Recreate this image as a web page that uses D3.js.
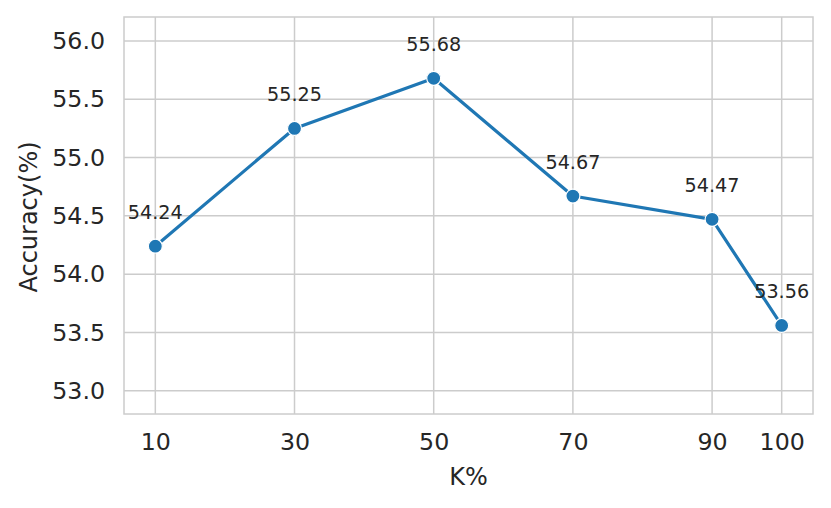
<!DOCTYPE html>
<html>
<head>
<meta charset="utf-8">
<script src="https://cdn.jsdelivr.net/npm/d3@7"></script>
<style>
	body { margin: 0; background: #fff; }
	text { font-family: "DejaVu Sans", sans-serif; fill: #262626; }
	.grid line { stroke: #cccccc; stroke-width: 1.5; }
	.tick text { font-size: 23.7px; }
	.anno { font-size: 19.2px; }
	.axis-label { font-size: 24px; }
</style>
</head>
<body>
<svg id="chart" width="831" height="508"></svg>
<script>
// data
const kValues = [10, 30, 50, 70, 90, 100];
const accuracy = [54.24, 55.25, 55.68, 54.67, 54.47, 53.56];
const yTicks = [53.0, 53.5, 54.0, 54.5, 55.0, 55.5, 56.0];

const width = 831;
const height = 508;
const margin = {top: 17, right: 18, bottom: 94, left: 124};

const svg = d3.select('#chart');

const xScale = d3.scaleLinear()
	.domain([5.5, 104.5])
	.range([margin.left, width - margin.right]);

const yScale = d3.scaleLinear()
	.domain([52.8, 56.206])
	.range([height - margin.bottom, margin.top]);

// grid lines
const grid = svg.append('g').attr('class', 'grid');
grid.selectAll('.vg')
	.data(kValues)
	.enter()
	.append('line')
		.attr('x1', d => xScale(d))
		.attr('x2', d => xScale(d))
		.attr('y1', margin.top)
		.attr('y2', height - margin.bottom);
grid.selectAll('.hg')
	.data(yTicks)
	.enter()
	.append('line')
		.attr('x1', margin.left)
		.attr('x2', width - margin.right)
		.attr('y1', d => yScale(d))
		.attr('y2', d => yScale(d));

// frame
svg.append('rect')
	.attr('x', margin.left)
	.attr('y', margin.top)
	.attr('width', width - margin.left - margin.right)
	.attr('height', height - margin.top - margin.bottom)
	.attr('fill', 'none')
	.attr('stroke', '#cccccc')
	.attr('stroke-width', 1.5);

// axes, only for the labels
const xAxis = d3.axisBottom(xScale)
	.tickValues(kValues)
	.tickSize(0)
	.tickPadding(19);
svg.append('g')
	.attr('transform', `translate(0, ${height - margin.bottom})`)
	.call(xAxis)
	.call(g => g.select('.domain').remove());

const yAxis = d3.axisLeft(yScale)
	.tickValues(yTicks)
	.tickFormat(d3.format('.1f'))
	.tickSize(0)
	.tickPadding(19);
svg.append('g')
	.attr('transform', `translate(${margin.left}, 0)`)
	.call(yAxis)
	.call(g => g.select('.domain').remove());

svg.selectAll('.tick text').attr('fill', '#262626');

// axis titles
svg.append('text')
	.attr('class', 'axis-label')
	.attr('text-anchor', 'middle')
	.attr('x', (margin.left + width - margin.right) / 2)
	.attr('y', 485)
	.text('K%');

svg.append('text')
	.attr('class', 'axis-label')
	.attr('text-anchor', 'middle')
	.attr('transform', `translate(37, 217) rotate(-90)`)
	.text('Accuracy(%)');

const data = kValues.map((k, i) => ({k: k, acc: accuracy[i]}));

const lineGenerator = d3.line()
	.x(d => xScale(d.k))
	.y(d => yScale(d.acc));

svg.append('path')
	.datum(data)
	.attr('fill', 'none')
	.attr('stroke', '#1f77b4')
	.attr('stroke-width', 3.2)
	.attr('stroke-linejoin', 'round')
	.attr('d', lineGenerator);

svg.selectAll('.dot')
	.data(data)
	.enter()
	.append('circle')
		.attr('cx', d => xScale(d.k))
		.attr('cy', d => yScale(d.acc))
		.attr('r', 7)
		.attr('fill', '#1f77b4')
		.attr('stroke', '#fff')
		.attr('stroke-width', 1.2);

// value labels above points
svg.selectAll('.anno')
	.data(data)
	.enter()
	.append('text')
		.attr('class', 'anno')
		.attr('text-anchor', 'middle')
		.attr('x', d => xScale(d.k))
		.attr('y', d => yScale(d.acc) - 27)
		.text(d => d.acc.toFixed(2));
</script>
</body>
</html>
